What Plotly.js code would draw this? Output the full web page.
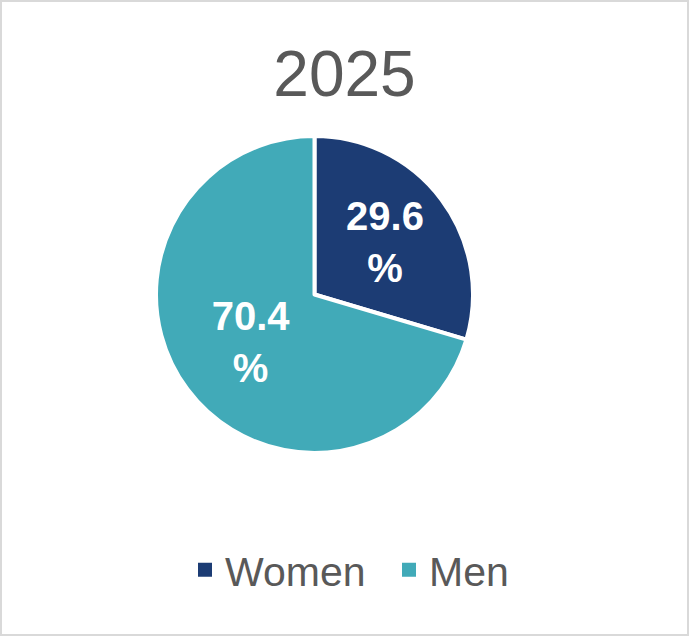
<!DOCTYPE html>
<html>
<head>
<meta charset="utf-8">
<script src="https://cdn.plot.ly/plotly-3.0.1.min.js"></script>
<style>
  html, body { margin: 0; padding: 0; background: #ffffff; }
  #wrap { position: relative; width: 689px; height: 636px; }
  #chart { width: 689px; height: 636px; }
  #frame { position: absolute; left: 0; top: 0; width: 689px; height: 636px; box-sizing: border-box; border: 2px solid #d9d9d9; pointer-events: none; }
</style>
</head>
<body>
<div id="wrap">
  <div id="chart"></div>
  <div id="frame"></div>
</div>
<script>
const chartTitle = "2025";
const categories = ["Women", "Men"];
const shares = [29.6, 70.4];
const sliceColors = ["#1c3c74", "#41aab8"];

const trace = {
  type: "pie",
  labels: categories,
  values: shares,
  sort: false,
  direction: "clockwise",
  rotation: 0,
  marker: { colors: sliceColors, line: { color: "#ffffff", width: 4 } },
  texttemplate: "%{value:.1f}<br>%",
  textposition: "inside",
  insidetextorientation: "horizontal",
  textfont: { family: "Liberation Sans, Arial, sans-serif", size: 40, color: "#ffffff", weight: "bold" },
  hoverinfo: "none",
  domain: { x: [156/689, 473/689], y: [183/636, 500/636] }
};

const layout = {
  width: 689,
  height: 636,
  margin: { l: 0, r: 0, t: 0, b: 0 },
  paper_bgcolor: "#ffffff",
  plot_bgcolor: "#ffffff",
  title: {
    text: chartTitle,
    font: { family: "Liberation Sans, Arial, sans-serif", size: 64, color: "#595959" },
    x: 0.5, xanchor: "center",
    y: 1 - 74/636, yanchor: "middle",
    yref: "paper", xref: "paper"
  },
  showlegend: true,
  legend: {
    orientation: "h",
    x: 389/689, xanchor: "center",
    y: 1 - 570/636, yanchor: "middle",
    font: { family: "Liberation Sans, Arial, sans-serif", size: 41, color: "#595959" },
    entrywidth: 159,
    entrywidthmode: "pixels",
    traceorder: "normal"
  }
};

Plotly.newPlot("chart", [trace], layout, { displayModeBar: false, staticPlot: true }).then(function (gd) {
  // enlarge the legend swatches to match the reference squares
  gd.querySelectorAll(".legend .legendpie").forEach(function (p) {
    p.setAttribute("d", "M7,7H-7V-7H7Z");
    p.style.strokeWidth = "0px";
  });
});
</script>
</body>
</html>
